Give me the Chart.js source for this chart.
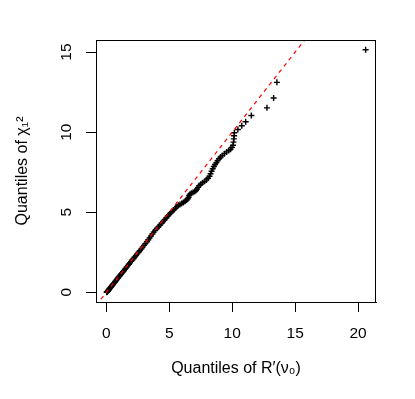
<!DOCTYPE html>
<html><head><meta charset="utf-8">
<script src="https://cdn.jsdelivr.net/npm/chart.js@4/dist/chart.umd.min.js"></script>
<style>html,body{margin:0;padding:0;background:#fff}#wrap{width:415px;height:399px;position:relative}</style>
</head><body><div id="wrap"><canvas id="c"></canvas></div>
<script>
// Observed quantiles of R'(nu0) (x) and theoretical chi-square(1) quantiles (y)
const obsQuantiles = [
  0.02,0.05,0.08,0.10,0.13,0.16,0.19,0.22,0.26,0.30,0.34,0.38,0.43,0.47,0.52,0.57,0.63,0.68,0.73,0.79,
  0.85,0.91,0.97,1.04,1.10,1.17,1.25,1.32,1.39,1.46,1.54,1.62,1.71,1.79,1.88,1.97,2.06,2.16,2.25,2.35,
  2.45,2.56,2.66,2.78,2.88,2.99,3.10,3.22,3.33,3.44,3.55,3.66,3.76,3.88,4.01,4.14,4.27,4.39,4.51,4.63,
  4.75,4.87,4.98,
  5.10,5.22,5.35,5.48,5.60,5.72,5.85,5.98,6.12,6.26,6.38,6.47,6.53,6.58,6.64,6.75,6.88,7.02,7.12,7.20,
  7.28,7.37,7.50,7.64,7.80,7.95,8.08,8.19,8.28,8.36,8.45,8.54,8.64,8.74,8.84,8.95,9.08,9.22,9.38,9.55,
  9.72,9.86,9.98,10.06,10.10,10.13,10.15,10.17,
  10.45,10.76,11.07,11.52,12.76,13.29,13.55,20.60
];
const chisqQuantiles = [
  0.00,0.02,0.04,0.07,0.10,0.13,0.16,0.19,0.23,0.27,0.31,0.35,0.39,0.44,0.49,0.54,0.59,0.64,0.70,0.76,
  0.82,0.88,0.94,1.00,1.07,1.14,1.21,1.28,1.35,1.43,1.51,1.59,1.67,1.75,1.84,1.93,2.02,2.11,2.20,2.30,
  2.40,2.50,2.60,2.71,2.82,2.93,3.04,3.16,3.28,3.40,3.52,3.64,3.76,3.87,3.98,4.09,4.20,4.31,4.42,4.53,
  4.64,4.75,4.85,
  4.95,5.04,5.14,5.25,5.35,5.43,5.49,5.54,5.61,5.69,5.76,5.84,5.94,6.05,6.13,6.19,6.24,6.29,6.36,6.44,
  6.55,6.66,6.75,6.84,6.93,7.02,7.12,7.25,7.40,7.56,7.72,7.86,7.98,8.10,8.22,8.34,8.45,8.55,8.66,8.76,
  8.85,8.93,9.05,9.18,9.38,9.58,9.78,9.96,
  10.17,10.40,10.65,11.04,11.52,12.13,13.11,15.15
];
// reference line y = x (endpoints beyond the plot, clipped by the chart area)
const refLineX = [-2, 24];
const refLineY = [-2, 24];
const xTicks = [0, 5, 10, 15, 20];
const yTicks = [0, 5, 10, 15];
const xRange = [-0.824, 21.424];
const yRange = [-0.606, 15.756];
const xTitle = "Quantiles of R\u2032(\u03bd\u2080)";
const yTitle = "Quantiles of \u03c7\u2081\u00b2";

const FONT = "'Liberation Sans', Arial, Helvetica, sans-serif";
Chart.defaults.font.family = FONT;
Chart.defaults.color = '#000';

const points = obsQuantiles.map((x, i) => ({x: x, y: chisqQuantiles[i]}));
const line = refLineX.map((x, i) => ({x: x, y: refLineY[i]}));

const boxPlugin = {
  id: 'box',
  afterDraw(chart) {
    const {ctx, chartArea: a} = chart;
    ctx.save();
    ctx.strokeStyle = '#000';
    ctx.lineWidth = 1;
    ctx.strokeRect(a.left + 0.5, a.top + 0.5, a.right - a.left - 1, a.bottom - a.top);
    ctx.restore();
  }
};

new Chart(document.getElementById('c'), {
  type: 'scatter',
  data: {
    datasets: [
      {
        type: 'line', data: line, borderColor: '#ff0000', borderWidth: 1.2,
        borderDash: [4, 4], pointRadius: 0, fill: false, tension: 0
      },
      {
        data: points, pointStyle: 'cross', pointRadius: 3, pointBorderWidth: 1.4,
        borderColor: '#000', backgroundColor: '#000', showLine: false
      }
    ]
  },
  options: {
    responsive: true, maintainAspectRatio: false, animation: false,
    layout: {padding: {left: 0, top: 40, right: 39, bottom: 0}},
    plugins: {legend: {display: false}, tooltip: {enabled: false}},
    scales: {
      x: {
        type: 'linear', min: xRange[0], max: xRange[1],
        afterBuildTicks: s => { s.ticks = xTicks.map(v => ({value: v})); },
        afterFit: s => { s.height = 97; },
        grid: {drawOnChartArea: false, drawTicks: true, tickLength: 10, color: '#000', lineWidth: 1},
        border: {display: true, color: '#000', width: 1},
        ticks: {font: {size: 15.5}, color: '#000', padding: 12, maxRotation: 0, autoSkip: false},
        title: {display: true, text: xTitle, font: {size: 16}, color: '#000', padding: {top: 0, bottom: 21}}
      },
      y: {
        type: 'linear', min: yRange[0], max: yRange[1],
        afterBuildTicks: s => { s.ticks = yTicks.map(v => ({value: v})); },
        afterFit: s => { s.width = 96; },
        grid: {drawOnChartArea: false, drawTicks: true, tickLength: 10, color: '#000', lineWidth: 1},
        border: {display: true, color: '#000', width: 1},
        ticks: {font: {size: 15.5}, color: '#000', padding: 11, minRotation: 90, maxRotation: 90, crossAlign: 'center', autoSkip: false},
        title: {display: true, text: yTitle, font: {size: 16}, color: '#000', padding: {top: 13, bottom: 0}}
      }
    }
  },
  plugins: [boxPlugin]
});
</script>
</body></html>
